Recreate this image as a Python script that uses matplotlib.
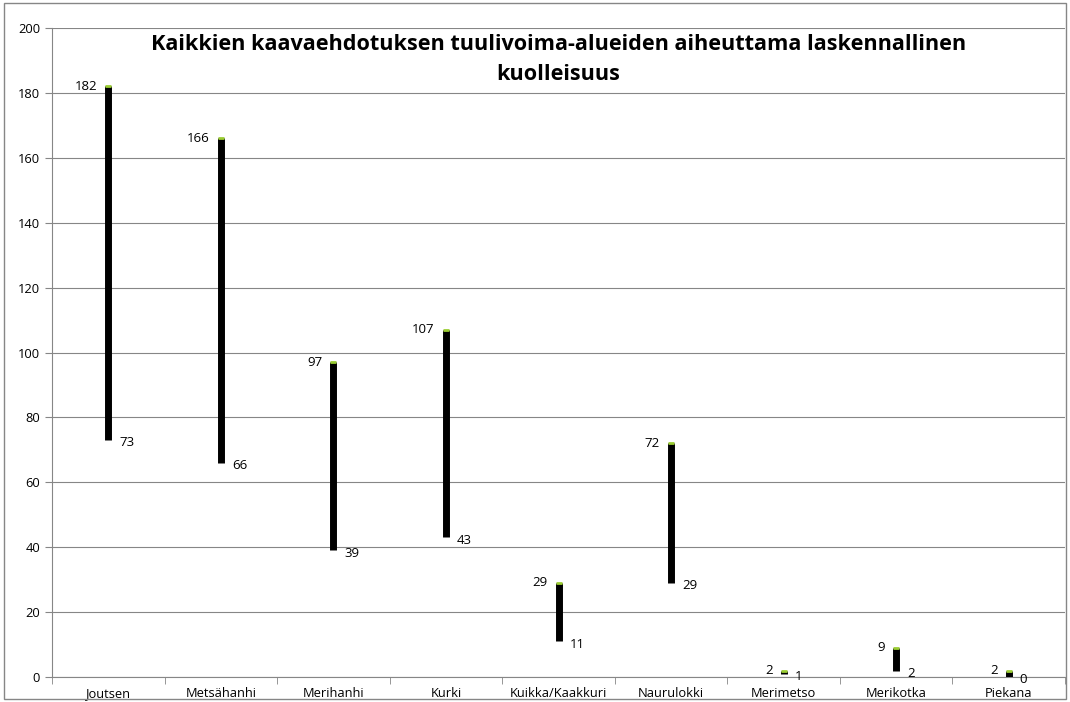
import numpy as np
import matplotlib.pyplot as plt

plt.rcParams['font.family'] = ['Open Sans', 'DejaVu Sans']

species = ["Joutsen", "Metsähanhi", "Merihanhi", "Kurki", "Kuikka/Kaakkuri",
           "Naurulokki", "Merimetso", "Merikotka", "Piekana"]
high = [182, 166, 97, 107, 29, 72, 2, 9, 2]
low = [73, 66, 39, 43, 11, 29, 1, 2, 0]

fig = plt.figure(figsize=(10.7, 7.02), dpi=100)
ax = fig.add_axes([52 / 1070, 25 / 702, 1013 / 1070, 649 / 702])

x = np.arange(len(species))
ax.vlines(x, low, high, color="black", linewidth=5, zorder=3)
ax.scatter(x, high, marker="_", s=20, color="#9acd32", linewidths=2, zorder=4)

for xi, h, l in zip(x, high, low):
    ax.annotate(str(h), (xi, h), xytext=(-8, 0), textcoords="offset points",
                ha="right", va="center", fontsize=9.5)
    ax.annotate(str(l), (xi, l), xytext=(8, -2), textcoords="offset points",
                ha="left", va="center", fontsize=9.5)

ax.set_xlim(-0.5, len(species) - 0.5)
ax.set_ylim(0, 200)
ax.set_yticks(range(0, 201, 20))
ax.set_xticks(x)
ax.set_xticklabels(species, fontsize=9.3)
ax.set_xticks(np.arange(-0.5, len(species)), minor=True)
ax.tick_params(axis="x", which="major", length=0, pad=7)
ax.tick_params(axis="x", which="minor", length=5, color="#868686", direction="out")
ax.tick_params(axis="y", length=5, color="#868686", labelsize=9.3)
ax.grid(axis="y", color="#868686", linewidth=0.8)
ax.set_axisbelow(True)

for side in ["top", "right"]:
    ax.spines[side].set_visible(False)
for side in ["left", "bottom"]:
    ax.spines[side].set_color("#868686")

ax.text(0.5, 0.912,
        "Kaikkien kaavaehdotuksen tuulivoima-alueiden aiheuttama laskennallinen\nkuolleisuus",
        transform=ax.transAxes, ha="center", va="bottom", fontsize=15.6,
        fontweight="bold", linespacing=1.6)

fig.patches.append(plt.Rectangle((0.004, 0.004), 0.992, 0.992, transform=fig.transFigure,
                                 fill=False, edgecolor="#868686", linewidth=1))

fig.savefig("out.png", dpi=100)
